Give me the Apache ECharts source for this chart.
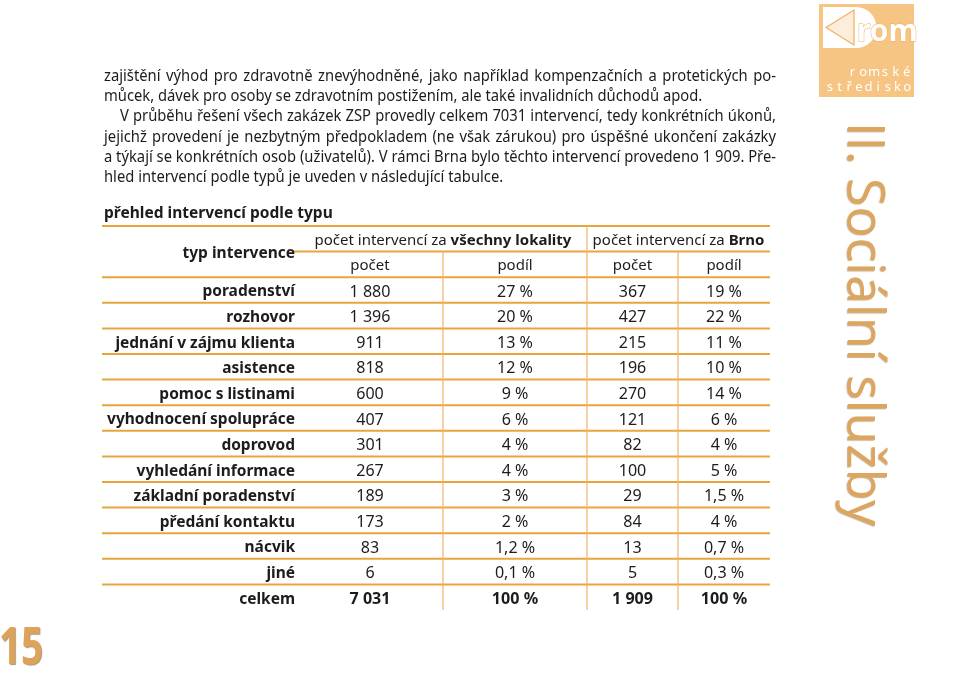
<!DOCTYPE html>
<html><head><meta charset="utf-8">
<script src="https://cdn.jsdelivr.net/npm/echarts@6/dist/echarts.min.js"></script>
<style>html,body{margin:0;padding:0;background:#fff}#c{width:960px;height:676px}</style>
</head><body><div id="c"></div>
<script>
// ---------- data ----------
const types = ['poradenství','rozhovor','jednání v zájmu klienta','asistence','pomoc s listinami','vyhodnocení spolupráce','doprovod','vyhledání informace','základní poradenství','předání kontaktu','nácvik','jiné'];
const allCount = [1880,1396,911,818,600,407,301,267,189,173,83,6];
const allShare = [27,20,13,12,9,6,4,4,3,2,1.2,0.1];
const brnoCount = [367,427,215,196,270,121,82,100,29,84,13,5];
const brnoShare = [19,22,11,10,14,6,4,5,1.5,4,0.7,0.3];
const totalLabel = 'celkem';
const allTotal = 7031, allTotalShare = 100;
const brnoTotal = 1909, brnoTotalShare = 100;
const tableTitle = 'přehled intervencí podle typu';
const typeHeader = 'typ intervence';
const groupHeaderPrefix = 'počet intervencí za ';
const groupNames = ['všechny lokality','Brno'];
const subHeaders = ['počet','podíl','počet','podíl'];
const paragraph = [
  'zajištění výhod pro zdravotně znevýhodněné, jako například kompenzačních a protetických po-',
  'můcek, dávek pro osoby se zdravotním postižením, ale také invalidních důchodů apod.',
  'V průběhu řešení všech zakázek ZSP provedly celkem 7031 intervencí, tedy konkrétních úkonů,',
  'jejichž provedení je nezbytným předpokladem (ne však zárukou) pro úspěšné ukončení zakázky',
  'a týkají se konkrétních osob (uživatelů). V rámci Brna bylo těchto intervencí provedeno 1 909. Pře-',
  'hled intervencí podle typů je uveden v následující tabulce.'
];
const sideTitle = 'II. Sociální služby';
const pageNumber = '15';
const logoWord = 'rom';
const logoLines = ['romské','středisko'];

// ---------- helpers ----------
const FAM = '"Noto Sans", "Open Sans", "DejaVu Sans", sans-serif';
const SIDE_FAM = '"Open Sans", "Noto Sans", sans-serif';
const cv = document.createElement('canvas').getContext('2d');
function measure(t, weight, size, fam){ cv.font = weight + ' ' + size + 'px ' + (fam || FAM); return cv.measureText(t).width; }
function fit(t, weight, target, fam){ return 20 * target / measure(t, weight, 20, fam); }
function fmtCount(v){ return String(v).replace(/\B(?=(\d{3})+(?!\d))/g, ' '); }
function fmtShare(v){ return String(v).replace('.', ',') + ' %'; }

const INK = '#1f1b1c';
const ORANGE = '#e9a43f';
const ORANGE_V = '#edb56c';
const GOLD = '#dca660';
const labelSize = Math.min(fit('jednání v zájmu klienta', 'bold', 189), fit('vyhodnocení spolupráce', 'bold', 188));
const headSize = 257 / ((measure(groupHeaderPrefix, 'normal', 20) + measure(groupNames[0], 'bold', 20)) / 20);
const numSize = fit('1 880', 'normal', 41);
const titleSize = fit(tableTitle, 'bold', 229);

// ---------- layout ----------
const rows = ['h1','h2'].concat(types, [totalLabel]);
const colBounds = [297, 443, 587, 678, 770];
const cc = i => (colBounds[i] + colBounds[i+1]) / 2;

function cellSeries(x, values, fmt, total){
  const data = values.map((v,i)=>[x, types[i], v]);
  data.push({value:[x, totalLabel, total], label:{fontWeight:'bold'}});
  return {type:'scatter', symbolSize:0, silent:true, data, itemStyle:{opacity:1},
    label:{show:true, position:'inside', offset:[0,2], formatter:p=>fmt(p.value[2]), color:INK, opacity:1, fontSize:numSize, fontFamily:FAM}};
}

const hRules = [[102,770,0],[293,770,1]];
for (let r = 2; r < rows.length; r++) hRules.push([102,770,r]);
const vRules = [[colBounds[1],1,14],[colBounds[2],0,14],[colBounds[3],1,14]];

// ---------- paragraph (justified) ----------
const pSize = 16.5;
const pFont = 'normal ' + pSize + 'px ' + FAM;
const pLines = [
  {x0:104, x1:776, j:true}, {x0:104, x1:776, j:false}, {x0:120, x1:776, j:true},
  {x0:104, x1:776, j:true}, {x0:104, x1:776, j:true}, {x0:104, x1:776, j:false}
];
let pScale = 1;
paragraph.forEach((t,i)=>{ if (pLines[i].j) pScale = Math.min(pScale, (pLines[i].x1 - pLines[i].x0) / measure(t,'normal',pSize)); });
const graphic = [];
paragraph.forEach((t,i)=>{
  const L = pLines[i];
  const words = t.split(' ');
  const ws = words.map(w=>measure(w,'normal',pSize)*pScale);
  let gap = measure(' ','normal',pSize)*pScale;
  if (L.j) gap = (L.x1 - L.x0 - ws.reduce((a,b)=>a+b,0)) / (words.length - 1);
  let x = L.x0;
  const y = 76 + 20.3*i;
  words.forEach((w,k)=>{
    graphic.push({type:'text', x, y, scaleX:pScale, silent:true,
      style:{text:w, font:pFont, fill:INK, align:'left', verticalAlign:'middle'}});
    x += ws[k] + gap;
  });
});

// table title
graphic.push({type:'text', x:104, y:213.5, silent:true,
  style:{text:tableTitle, font:'bold ' + titleSize + 'px ' + FAM, fill:INK, align:'left', verticalAlign:'middle'}});

// side title
const sideSize = fit(sideTitle, 'normal', 404, SIDE_FAM);
graphic.push({type:'text', x:837, y:122, rotation:-Math.PI/2, silent:true,
  style:{text:sideTitle, font:'normal ' + sideSize + 'px ' + SIDE_FAM, fill:GOLD,
    align:'left', verticalAlign:'bottom',
    textShadowColor:'rgba(150,95,30,0.5)', textShadowOffsetX:-1, textShadowOffsetY:1, textShadowBlur:1}});

// page number
const pnSize = 52;
const pnScale = 44 / measure(pageNumber, 'bold', pnSize);
graphic.push({type:'text', x:-1, y:649, scaleX:pnScale, silent:true,
  style:{text:pageNumber, font:'bold ' + pnSize + 'px ' + FAM, fill:'#dda35a',
    align:'left', verticalAlign:'middle',
    textShadowColor:'rgba(120,75,20,0.6)', textShadowOffsetX:1, textShadowOffsetY:1, textShadowBlur:1}});

// logo
const LOGO = '#f6c584';
graphic.push({type:'rect', silent:true, shape:{x:819,y:4,width:95,height:93}, style:{fill:LOGO}});
graphic.push({type:'rect', silent:true, shape:{x:823,y:7,width:33,height:41}, style:{fill:'#ffffff'}});
graphic.push({type:'sector', silent:true, shape:{cx:856,cy:27.5,r:20.5,r0:0,startAngle:-Math.PI/2,endAngle:Math.PI/2,clockwise:true}, style:{fill:'#ffffff'}});
graphic.push({type:'polygon', silent:true, shape:{points:[[826,27.5],[854,10],[854,45]]}, style:{fill:'#fdeedb', stroke:'#efb062', lineWidth:1.2}});
graphic.push({type:'text', x:857, y:32, silent:true,
  style:{text:logoWord, font:'bold 30px ' + FAM, fill:'#ffffff', stroke:'#efb062', lineWidth:1, align:'left', verticalAlign:'middle'}});
[[logoLines[0], 847, 912, 72],[logoLines[1], 825, 912, 87]].forEach(([t, a, b, y])=>{
  const chars = Array.from(t); const step = (b - a) / chars.length;
  chars.forEach((ch,k)=>graphic.push({type:'text', x:a + step*(k+0.5), y, silent:true,
    style:{text:ch, font:'normal 13px ' + FAM, fill:'#ffffff', align:'center', verticalAlign:'middle'}}));
});

// ---------- chart ----------
const chart = echarts.init(document.getElementById('c'), null, {renderer:'canvas'});
chart.setOption({
  animation:false,
  grid:{left:102, right:190, top:226, bottom:66},
  xAxis:{type:'value', min:102, max:770, show:false},
  yAxis:{type:'category', data:rows, inverse:true, show:false},
  series:[
    {type:'custom', silent:true, clip:false, data:hRules, encode:{x:[0,1], y:2},
      renderItem:(params, api)=>{
        const band = api.size([0,1])[1];
        const p0 = api.coord([api.value(0), api.value(2)]);
        const p1 = api.coord([api.value(1), api.value(2)]);
        const y = p0[1] - band/2;
        return {type:'line', shape:{x1:p0[0], y1:y, x2:p1[0], y2:y}, style:{stroke:ORANGE, lineWidth:2}};
      }},
    {type:'custom', silent:true, clip:false, data:vRules, encode:{x:0, y:[1,2]},
      renderItem:(params, api)=>{
        const band = api.size([0,1])[1];
        const p0 = api.coord([api.value(0), api.value(1)]);
        const p1 = api.coord([api.value(0), api.value(2)]);
        return {type:'line', shape:{x1:p0[0], y1:p0[1]-band/2, x2:p1[0], y2:p1[1]+band/2}, style:{stroke:ORANGE_V, lineWidth:1.2}};
      }},
    // row labels
    {type:'scatter', symbolSize:0, silent:true, itemStyle:{opacity:1},
      data: types.concat([totalLabel]).map(t=>[295, t]),
      label:{show:true, position:'inside', align:'right', offset:[0,2], formatter:p=>p.value[1], color:INK, opacity:1, fontWeight:'bold', fontSize:labelSize, fontFamily:FAM}},
    // header texts
    {type:'scatter', symbolSize:0, silent:true, itemStyle:{opacity:1},
      data:[
        {value:[295,'h1'], name:typeHeader, label:{align:'right', fontWeight:'bold', fontSize:labelSize, offset:[0,15]}},
        {value:[colBounds[1],'h1'], name:groupHeaderPrefix + '{b|' + groupNames[0] + '}'},
        {value:[(colBounds[2]+colBounds[4])/2, 'h1'], name:groupHeaderPrefix + '{b|' + groupNames[1] + '}'},
        {value:[cc(0),'h2'], name:subHeaders[0]},
        {value:[cc(1),'h2'], name:subHeaders[1]},
        {value:[cc(2),'h2'], name:subHeaders[2]},
        {value:[cc(3),'h2'], name:subHeaders[3]}
      ],
      label:{show:true, position:'inside', offset:[0,1.5], formatter:p=>p.name, color:INK, opacity:1, fontSize:headSize, fontFamily:FAM,
        rich:{b:{fontWeight:'bold', fontSize:headSize, fontFamily:FAM, color:INK}}}},
    cellSeries(cc(0), allCount, fmtCount, allTotal),
    cellSeries(cc(1), allShare, fmtShare, allTotalShare),
    cellSeries(cc(2), brnoCount, fmtCount, brnoTotal),
    cellSeries(cc(3), brnoShare, fmtShare, brnoTotalShare)
  ],
  graphic: graphic
});
</script>
</body></html>
